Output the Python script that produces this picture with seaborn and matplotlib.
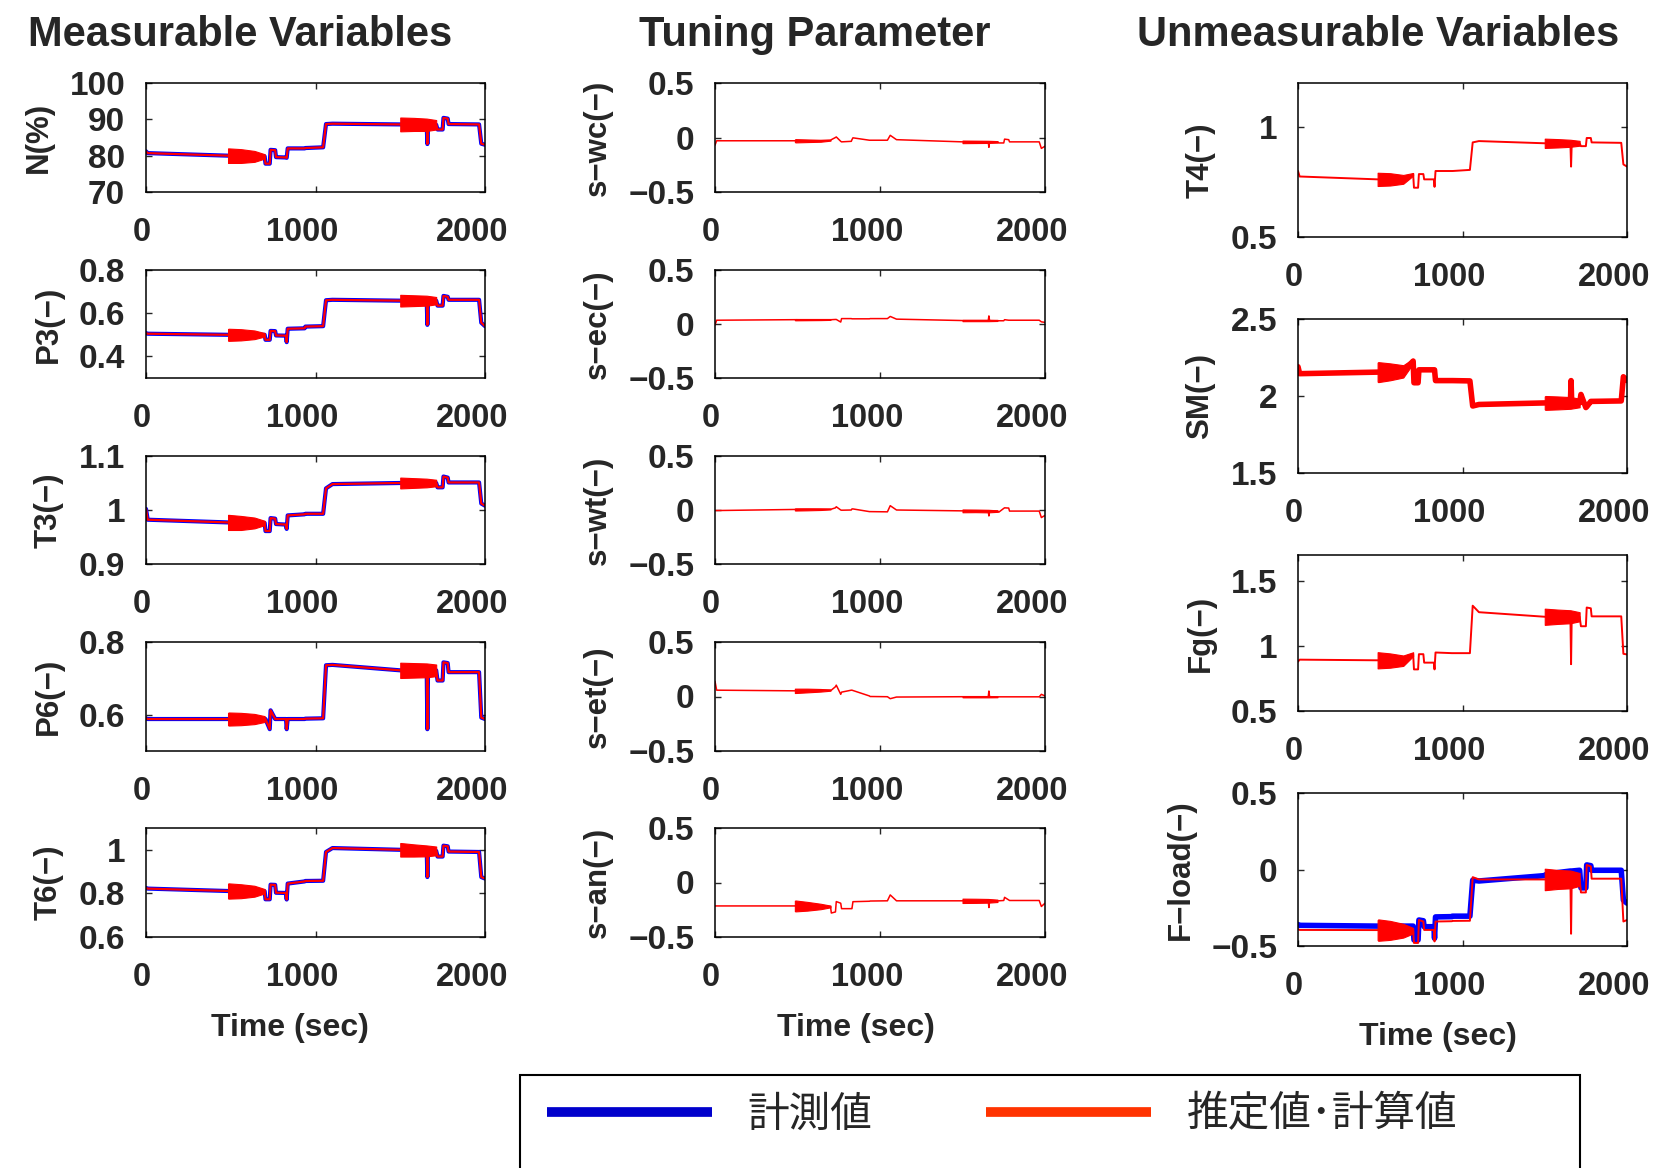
import numpy as np
import matplotlib
matplotlib.use("Agg")
import matplotlib.pyplot as plt
import seaborn as sns
from matplotlib.lines import Line2D
from matplotlib.patches import Rectangle
from matplotlib.transforms import ScaledTranslation
from matplotlib.font_manager import FontProperties

# ---------------------------------------------------------------- data
# shared time knots (sec)
time_s = [0, 10, 484, 488, 560, 640, 700, 705, 730, 735, 762, 767, 826, 830,
          836, 936, 940, 1045, 1062, 1100, 1500, 1504, 1580, 1656, 1660, 1664,
          1712, 1720, 1750, 1755, 1780, 1785, 1965, 1978, 2000]
# knots spanned by the two oscillation bursts
osc1_idx = [2, 3, 4, 5, 6]
osc2_idx = [20, 21, 22, 23, 26]

# measurable variables (estimate; measured values coincide with them)
N_est = [81.2, 80.7, 80.0, 80.0, 79.9, 79.8, 79.8, 77.8, 77.8, 81.6, 81.5, 79.6,
         79.5, 79.4, 82.0, 82.0, 82.1, 82.3, 88.7, 88.8, 88.6, 88.6, 88.6, 88.5,
         83.2, 88.5, 88.5, 87.2, 87.2, 90.4, 90.2, 88.7, 88.6, 83.3, 83.0]
N_osc1 = [2.0, 2.0, 1.9, 1.5, 0.6]
N_osc2 = [1.9, 1.9, 1.8, 1.7, 1.3]

P3_est = [0.508, 0.505, 0.500, 0.500, 0.500, 0.500, 0.500, 0.477, 0.477, 0.518,
          0.517, 0.497, 0.496, 0.466, 0.528, 0.530, 0.538, 0.540, 0.660, 0.662,
          0.658, 0.658, 0.658, 0.658, 0.546, 0.658, 0.658, 0.635, 0.635, 0.680,
          0.676, 0.662, 0.662, 0.556, 0.540]
P3_osc1 = [0.027, 0.028, 0.026, 0.020, 0.008]
P3_osc2 = [0.027, 0.027, 0.025, 0.023, 0.017]

T3_est = [1.002, 0.982, 0.977, 0.977, 0.976, 0.976, 0.976, 0.961, 0.961, 0.985,
          0.984, 0.974, 0.973, 0.965, 0.990, 0.992, 0.993, 0.993, 1.040, 1.048,
          1.050, 1.050, 1.050, 1.050, 1.050, 1.050, 1.050, 1.042, 1.042, 1.062,
          1.060, 1.051, 1.051, 1.012, 1.008]
T3_osc1 = [0.014, 0.014, 0.013, 0.010, 0.004]
T3_osc2 = [0.010, 0.010, 0.009, 0.008, 0.006]

P6_est = [0.590, 0.588, 0.588, 0.588, 0.588, 0.588, 0.588, 0.588, 0.560, 0.612,
          0.588, 0.588, 0.588, 0.560, 0.588, 0.588, 0.589, 0.590, 0.736, 0.737,
          0.722, 0.722, 0.722, 0.722, 0.560, 0.722, 0.722, 0.694, 0.694, 0.744,
          0.742, 0.717, 0.717, 0.592, 0.588]
P6_osc1 = [0.017, 0.018, 0.017, 0.014, 0.008]
P6_osc2 = [0.021, 0.021, 0.020, 0.019, 0.016]

T6_est = [0.825, 0.822, 0.811, 0.811, 0.810, 0.810, 0.810, 0.773, 0.773, 0.840,
          0.839, 0.803, 0.802, 0.772, 0.845, 0.855, 0.857, 0.858, 0.990, 1.008,
          1.000, 1.000, 0.997, 0.995, 0.875, 0.995, 0.995, 0.969, 0.969, 1.019,
          1.016, 0.992, 0.990, 0.875, 0.868]
T6_osc1 = [0.034, 0.035, 0.032, 0.025, 0.010]
T6_osc2 = [0.031, 0.031, 0.028, 0.025, 0.020]

# tuning parameters
swc_est = [-0.07, -0.03, -0.03, -0.03, -0.03, -0.03, -0.025, -0.02, 0.0, 0.005,
           -0.035, -0.04, -0.035, -0.02, -0.003, -0.025, -0.025, -0.025, 0.02,
           -0.02, -0.04, -0.04, -0.04, -0.04, -0.09, -0.04, -0.04, -0.05, -0.05,
           -0.015, -0.02, -0.04, -0.04, -0.10, -0.08]
swc_osc1 = [0.012, 0.015, 0.012, 0.009, 0.004]
swc_osc2 = [0.012, 0.012, 0.011, 0.010, 0.007]

sec_est = [-0.01, 0.035, 0.04, 0.04, 0.04, 0.04, 0.04, 0.04, 0.042, 0.042, 0.018,
           0.05, 0.05, 0.048, 0.048, 0.048, 0.05, 0.05, 0.07, 0.045, 0.032, 0.032,
           0.032, 0.032, 0.075, 0.032, 0.032, 0.03, 0.03, 0.04, 0.035, 0.035,
           0.035, 0.02, 0.015]
sec_osc1 = [0.005, 0.006, 0.005, 0.004, 0.002]
sec_osc2 = [0.006, 0.006, 0.006, 0.006, 0.004]

swt_est = [-0.005, -0.005, 0.005, 0.005, 0.006, 0.007, 0.008, 0.008, 0.02, 0.03,
           0.0, -0.002, 0.0, 0.01, 0.01, -0.015, -0.015, -0.017, 0.04, 0.0,
           -0.008, -0.008, -0.008, -0.01, -0.055, -0.01, -0.01, -0.02, 0.015,
           0.02, 0.018, -0.01, -0.01, -0.07, -0.05]
swt_osc1 = [0.009, 0.010, 0.009, 0.007, 0.003]
swt_osc2 = [0.013, 0.013, 0.012, 0.012, 0.007]

set_est = [0.14, 0.058, 0.052, 0.052, 0.055, 0.057, 0.058, 0.058, 0.09, 0.104,
           0.02, 0.04, 0.058, 0.058, 0.055, 0.005, 0.0, -0.002, -0.02, -0.005,
           -0.002, -0.002, -0.002, -0.002, 0.05, -0.002, -0.003, -0.003, -0.003,
           -0.003, -0.003, -0.003, -0.003, 0.02, 0.005]
set_osc1 = [0.020, 0.020, 0.017, 0.012, 0.005]
set_osc2 = [0.005, 0.006, 0.006, 0.006, 0.004]

san_est = [-0.215, -0.215, -0.215, -0.215, -0.218, -0.22, -0.22, -0.28, -0.27,
           -0.175, -0.19, -0.24, -0.24, -0.24, -0.176, -0.172, -0.17, -0.168,
           -0.114, -0.168, -0.168, -0.168, -0.168, -0.168, -0.23, -0.168, -0.168,
           -0.168, -0.165, -0.136, -0.16, -0.165, -0.165, -0.22, -0.19]
san_osc1 = [0.048, 0.050, 0.040, 0.025, 0.008]
san_osc2 = [0.020, 0.020, 0.019, 0.017, 0.011]

# unmeasurable variables
T4_est = [0.80, 0.775, 0.762, 0.762, 0.762, 0.762, 0.785, 0.724, 0.724, 0.786,
          0.786, 0.762, 0.762, 0.728, 0.80, 0.80, 0.80, 0.805, 0.93, 0.936,
          0.926, 0.926, 0.926, 0.926, 0.82, 0.926, 0.926, 0.913, 0.913, 0.95,
          0.95, 0.93, 0.928, 0.83, 0.82]
T4_osc1 = [0.030, 0.030, 0.028, 0.020, 0.006]
T4_osc2 = [0.021, 0.021, 0.019, 0.016, 0.011]

SM_est = [2.19, 2.145, 2.155, 2.155, 2.157, 2.16, 2.227, 2.086, 2.086, 2.17, 2.17,
          2.17, 2.17, 2.17, 2.10, 2.10, 2.10, 2.098, 1.935, 1.945, 1.955, 1.955,
          1.955, 1.955, 2.10, 1.955, 1.955, 2.01, 1.925, 1.93, 1.965, 1.965,
          1.968, 2.125, 2.10]
SM_osc1 = [0.062, 0.065, 0.055, 0.040, 0.015]
SM_osc2 = [0.042, 0.045, 0.042, 0.038, 0.028]

Fg_est = [0.88, 0.895, 0.89, 0.89, 0.888, 0.887, 0.937, 0.82, 0.82, 0.937, 0.937,
          0.872, 0.872, 0.82, 0.95, 0.945, 0.945, 0.945, 1.31, 1.26, 1.225, 1.225,
          1.225, 1.225, 0.86, 1.225, 1.225, 1.152, 1.152, 1.296, 1.29, 1.228,
          1.228, 0.94, 0.935]
Fg_osc1 = [0.062, 0.062, 0.055, 0.040, 0.015]
Fg_osc2 = [0.062, 0.062, 0.055, 0.050, 0.035]

Fload_est = [-0.39, -0.395, -0.396, -0.396, -0.398, -0.40, -0.40, -0.48, -0.48,
             -0.33, -0.34, -0.395, -0.395, -0.47, -0.34, -0.338, -0.336, -0.335,
             -0.05, -0.065, -0.065, -0.065, -0.065, -0.065, -0.42, -0.065, -0.065,
             -0.15, -0.15, 0.03, 0.02, -0.06, -0.06, -0.34, -0.33]
Fload_meas = [-0.36, -0.365, -0.37, -0.37, -0.37, -0.37, -0.37, -0.46, -0.46,
              -0.33, -0.335, -0.374, -0.374, -0.45, -0.31, -0.308, -0.305, -0.305,
              -0.07, -0.075, -0.04, -0.035, -0.02, -0.01, -0.01, -0.01, -0.005,
              -0.12, -0.12, 0.03, 0.025, -0.005, -0.005, -0.20, -0.22]
Fload_osc1 = [0.065, 0.070, 0.062, 0.045, 0.018]
Fload_osc2 = [0.070, 0.070, 0.062, 0.058, 0.042]

column_titles = ["Measurable Variables", "Tuning Parameter", "Unmeasurable Variables"]
legend_labels = ["計測値", "推定値･計算値"]
x_ticks = [0, 1000, 2000]

# ---------------------------------------------------------------- style
sns.set_style("ticks")
plt.rcParams["font.family"] = ["Liberation Sans", "Noto Sans CJK JP", "DejaVu Sans"]
plt.rcParams["axes.linewidth"] = 1.1

RED = "#ff0000"
BLUE = "#0000ff"
W, H = 1654, 1168

fig = plt.figure(figsize=(W / 100, H / 100), dpi=100)


def px_axes(x0, x1, y0, y1):
    """Axes placed from pixel edges (left, right, top, bottom)."""
    return fig.add_axes([x0 / W, 1 - y1 / H, (x1 - x0) / W, (y1 - y0) / H])


def draw_panel(ax, label, est, osc1, osc2, ylim, yticks, meas=None,
               est_lw=1.6, meas_lw=3.0):
    if meas is not None:
        sns.lineplot(x=time_s, y=meas, ax=ax, color=BLUE, lw=meas_lw,
                     estimator=None, sort=False)
    sns.lineplot(x=time_s, y=est, ax=ax, color=RED, lw=est_lw,
                 estimator=None, sort=False)
    for idx, amp in ((osc1_idx, osc1), (osc2_idx, osc2)):
        t = [time_s[i] for i in idx]
        c = np.array([est[i] for i in idx])
        a = np.array(amp)
        ax.fill_between(t, c - a, c + a, color=RED, lw=0.8, zorder=3)
    ax.set_xlim(0, 2000)
    ax.set_ylim(*ylim)
    ax.set_xticks(x_ticks, [str(v) for v in x_ticks])
    ax.set_yticks(yticks, [f"{v:g}".replace("-", "\u2212") for v in yticks])
    ax.tick_params(axis="both", direction="in", length=4, width=1.0,
                   top=True, right=True)
    ax.tick_params(axis="x", pad=18, labelsize=23.5)
    ax.tick_params(axis="y", pad=15, labelsize=24)
    for lab in ax.get_xticklabels() + ax.get_yticklabels():
        lab.set_fontweight("bold")
    for lab, dx in zip(ax.get_xticklabels(), (-4, -13, -13)):
        lab.set_transform(lab.get_transform()
                          + ScaledTranslation(dx / 100, 0, fig.dpi_scale_trans))
    ax.set_ylabel(label, fontsize=22.5, fontweight="bold", labelpad=11)
    ax.set_xlabel("")
    for sp in ax.spines.values():
        sp.set_visible(True)
        sp.set_color("black")


left_rows = [(83, 192), (270, 378), (456, 564), (642, 751), (828, 937)]
right_rows = [(83, 237), (319, 473), (555, 711), (793, 946)]

left_specs = [
    ("N(%)", N_est, N_osc1, N_osc2, (70, 100), [70, 80, 90, 100]),
    ("P3(\u2212)", P3_est, P3_osc1, P3_osc2, (0.3, 0.8), [0.4, 0.6, 0.8]),
    ("T3(\u2212)", T3_est, T3_osc1, T3_osc2, (0.9, 1.1), [0.9, 1, 1.1]),
    ("P6(\u2212)", P6_est, P6_osc1, P6_osc2, (0.5, 0.8), [0.6, 0.8]),
    ("T6(\u2212)", T6_est, T6_osc1, T6_osc2, (0.6, 1.1), [0.6, 0.8, 1]),
]
mid_specs = [
    ("s\u2212wc(\u2212)", swc_est, swc_osc1, swc_osc2),
    ("s\u2212ec(\u2212)", sec_est, sec_osc1, sec_osc2),
    ("s\u2212wt(\u2212)", swt_est, swt_osc1, swt_osc2),
    ("s\u2212et(\u2212)", set_est, set_osc1, set_osc2),
    ("s\u2212an(\u2212)", san_est, san_osc1, san_osc2),
]
right_specs = [
    ("T4(\u2212)", T4_est, T4_osc1, T4_osc2, (0.5, 1.2), [0.5, 1], None),
    ("SM(\u2212)", SM_est, SM_osc1, SM_osc2, (1.5, 2.5), [1.5, 2, 2.5], None),
    ("Fg(\u2212)", Fg_est, Fg_osc1, Fg_osc2, (0.5, 1.7), [0.5, 1, 1.5], None),
    ("F\u2212load(\u2212)", Fload_est, Fload_osc1, Fload_osc2, (-0.5, 0.5),
     [-0.5, 0, 0.5], Fload_meas),
]

for (y0, y1), (lab, est, o1, o2, yl, yt) in zip(left_rows, left_specs):
    ax = px_axes(146, 485, y0, y1)
    draw_panel(ax, lab, est, o1, o2, yl, yt, meas=est)
    last_left = ax

for (y0, y1), (lab, est, o1, o2) in zip(left_rows, mid_specs):
    ax = px_axes(715, 1045, y0, y1)
    draw_panel(ax, lab, est, o1, o2, (-0.5, 0.5), [-0.5, 0, 0.5], est_lw=1.1)
    last_mid = ax

for (y0, y1), (lab, est, o1, o2, yl, yt, meas) in zip(right_rows, right_specs):
    ax = px_axes(1298, 1627, y0, y1)
    lw = 4.0 if lab.startswith("SM") else 1.4
    draw_panel(ax, lab, est, o1, o2, yl, yt, meas=meas, est_lw=lw, meas_lw=4.0)
    last_right = ax

for ax, ycoord in ((last_left, -0.835), (last_mid, -0.835), (last_right, -0.594)):
    ax.set_xlabel("Time (sec)", fontsize=23, fontweight="bold")
    ax.xaxis.set_label_coords(0.426, ycoord)
    ax.xaxis.label.set_va("center")

for title, xc in zip(column_titles, (240, 815, 1378)):
    fig.text(xc / W, 1 - 35 / H, title, ha="center", va="center",
             fontsize=30, fontweight="bold")

# legend box running off the lower edge
fig.add_artist(Rectangle((520 / W, -0.05), 1060 / W, (H - 1075) / H + 0.05,
                         transform=fig.transFigure, fill=False,
                         ec="black", lw=1.5))
handles = [Line2D([], [], color="#0000cc", lw=7, solid_capstyle="butt"),
           Line2D([], [], color="#ff3300", lw=7, solid_capstyle="butt")]
fig.legend(handles, legend_labels, loc="center left",
           bbox_to_anchor=(547 / W, 1 - 1115 / H), ncol=2, frameon=False,
           borderpad=0, borderaxespad=0, handlelength=3.95, handletextpad=0.85,
           columnspacing=2.75,
           prop=FontProperties(family=["Noto Sans CJK JP"], size=30))

fig.savefig("out.png", dpi=100)
